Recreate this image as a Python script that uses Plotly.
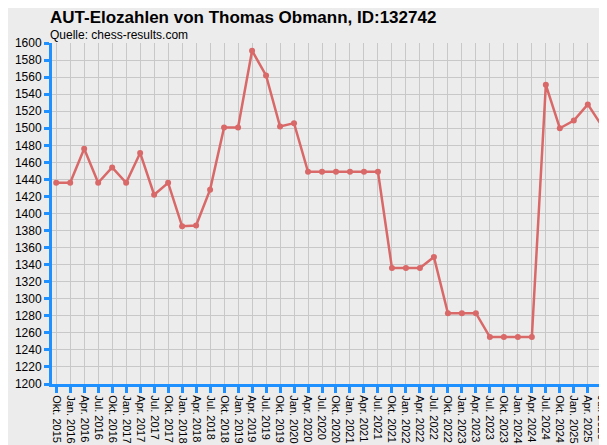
import plotly.graph_objects as go

labels = []
mon = ["Jan.", "Apr.", "Jul.", "Okt."]
y0, q0 = 2015, 3
for i in range(40):
    q = (q0 + i) % 4
    y = y0 + (q0 + i) // 4
    labels.append(f"{mon[q]} {y}")

elo = [1436, 1436, 1476, 1436, 1454, 1436, 1471, 1422, 1436, 1385,
       1386, 1428, 1501, 1501, 1591, 1562, 1502, 1506, 1449, 1449,
       1449, 1449, 1449, 1449, 1336, 1336, 1336, 1349, 1283, 1283,
       1283, 1255, 1255, 1255, 1255, 1551, 1500, 1509, 1528, 1503]

x = list(range(len(elo)))
fig = go.Figure(go.Scatter(x=x, y=elo, mode="lines+markers",
                           line=dict(color="#d96868", width=2.5),
                           marker=dict(color="#d96868", size=6)))
fig.update_layout(
    width=607, height=445, margin=dict(l=44, r=9, t=35, b=69, autoexpand=False),
    paper_bgcolor="#ececec", plot_bgcolor="#ececec",
    font=dict(family="Liberation Sans, Arial", color="black"),
    showlegend=False,
    annotations=[
        dict(text="<b>AUT-Elozahlen von Thomas Obmann, ID:132742</b>", x=0, y=1, xref="paper", yref="paper",
             xanchor="left", yanchor="bottom", yshift=14, xshift=-4, showarrow=False, font=dict(size=17)),
        dict(text="Quelle: chess-results.com", x=0, y=1, xref="paper", yref="paper",
             xanchor="left", yanchor="bottom", yshift=-1, xshift=-4, showarrow=False, font=dict(size=12)),
    ],
)
fig.update_xaxes(tickmode="array", tickvals=x, ticktext=labels, tickangle=90, automargin=False,
                 range=[-0.3, 39.3], showgrid=True, gridcolor="#c8c8c8", gridwidth=1,
                 showline=True, linecolor="#1e90ff", linewidth=3, ticks="outside",
                 tickcolor="#1e90ff", tickwidth=3, ticklen=6, tickfont=dict(size=11), zeroline=False)
fig.update_yaxes(range=[1200, 1600], dtick=20, showgrid=True, gridcolor="#c8c8c8", automargin=False,
                 showline=True, linecolor="#1e90ff", linewidth=3, ticks="outside",
                 tickcolor="#1e90ff", tickwidth=3, ticklen=5, tickfont=dict(size=12), zeroline=False)
fig.write_html("out.html")
